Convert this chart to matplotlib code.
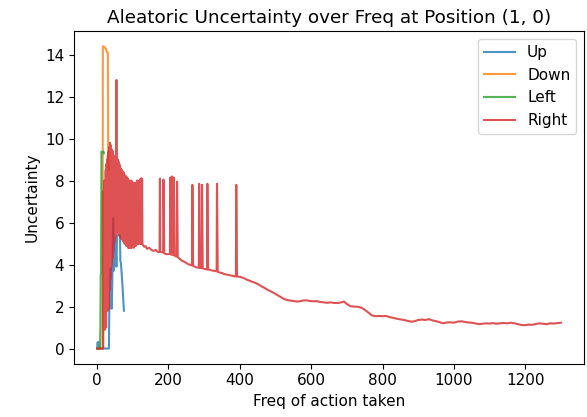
import matplotlib
matplotlib.use("Agg")
import matplotlib.pyplot as plt
import numpy as np

# ---- data ----
up_x = [0, 1, 4, 5, 33, 34, 36, 37, 40, 41, 43, 45, 46, 48, 50, 52, 54, 56, 64, 65, 67, 69, 71, 73, 75]
up_y = [0, 0.3, 0.3, 0, 0, 1.8, 2.0, 3.8, 3.8, 1.9, 3.7, 6.2, 3.7, 5.3, 4.0, 5.0, 3.9, 5.4, 5.4, 4.2,
        4.0, 3.5, 3.0, 2.4, 1.8]

down_x = [0, 15, 16, 18, 24, 28, 30, 31, 33]
down_y = [0, 0, 14.4, 14.4, 14.3, 14.1, 14.1, 9.0, 8.5]

left_x = [0, 8, 9, 10, 11, 12, 18, 19]
left_y = [0, 0, 1.0, 3.5, 3.6, 9.38, 9.38, 9.3]

# dense oscillating part of "Right": peaks at even x, troughs at the next x
right_head_x = [0, 17]
right_head_y = [0, 0]
dense_peak_x = list(range(18, 127, 2))
dense_peak_y = [7.5, 8.0, 7.6, 8.5, 8.8, 9.0, 9.2, 9.4, 9.6, 9.8, 9.7, 9.5, 9.3, 9.4, 9.2, 9.0,
                9.1, 8.9, 12.8, 8.9, 9.0, 8.9, 8.8, 8.7, 8.6, 8.5, 8.5, 8.4, 8.4, 8.3, 8.2, 8.2,
                8.2, 8.1, 8.1, 8.0, 8.0, 8.0, 7.9, 8.0, 7.9, 7.9, 7.9, 7.8, 7.9, 7.8, 7.9, 8.0,
                8.0, 7.6, 7.9, 8.0, 8.1, 8.1, 8.1]
dense_trough_y = [1.0, 0.9, 1.5, 1.0, 2.0, 1.8, 2.5, 1.9, 2.8, 3.3, 3.8, 4.0, 4.3, 4.6, 4.9, 5.1,
                  5.3, 5.5, 5.6, 5.6, 5.5, 5.5, 5.4, 5.3, 5.3, 5.2, 5.2, 5.1, 5.1, 5.0, 5.0, 4.9,
                  4.9, 4.9, 4.8, 4.8, 4.8, 4.9, 4.8, 4.8, 4.9, 4.9, 4.8, 4.9, 4.9, 4.9, 5.0, 5.0,
                  5.0, 5.0, 5.0, 5.0, 5.0, 5.0, 5.0]

right_tail_x = [128, 132, 136, 140, 146, 152, 158, 164, 170, 175, 176, 177, 179, 185, 186, 188,
                192, 198, 204, 205, 207, 209, 210, 212, 214, 215, 217, 219, 223, 224, 226, 230,
                236, 242, 248, 252, 258, 263, 266, 267, 269, 274, 280, 285, 286, 288, 291, 293,
                294, 296, 300, 308, 309, 311, 316, 322, 328, 334, 335, 336, 338, 344, 350, 356,
                364, 370, 376, 383, 389, 390, 392, 400, 408, 414, 420, 426, 432, 440, 447, 453,
                460, 470, 480, 490, 500, 510, 518, 525, 535, 545, 555, 565, 575, 585, 595, 605,
                615, 625, 635, 645, 655, 665, 675, 685, 692, 700, 710, 720, 730, 740, 750, 760,
                770, 780, 790, 800, 810, 820, 830, 840, 850, 860, 870, 880, 890, 900, 910, 920,
                930, 940, 950, 960, 970, 980, 990, 1000, 1010, 1020, 1030, 1040, 1050, 1060,
                1070, 1080, 1090, 1100, 1110, 1120, 1130, 1140, 1150, 1160, 1170, 1180, 1190,
                1200, 1210, 1220, 1230, 1240, 1250, 1260, 1270, 1280, 1290, 1300]
right_tail_y = [4.95, 4.85, 4.88, 4.75, 4.8, 4.7, 4.65, 4.7, 4.6, 4.6, 8.1, 4.6, 4.6, 4.58, 8.05,
                4.55, 4.5, 4.5, 4.5, 8.15, 4.48, 4.48, 8.2, 4.46, 4.45, 8.15, 4.44, 4.4, 4.38,
                7.95, 4.36, 4.3, 4.2, 4.15, 4.1, 4.05, 4.0, 3.98, 3.96, 7.8, 3.95, 3.9, 3.86,
                3.85, 7.85, 3.85, 3.84, 3.83, 7.8, 3.82, 3.8, 3.77, 7.85, 3.76, 3.75, 3.72, 3.7,
                3.68, 3.68, 7.85, 3.66, 3.62, 3.6, 3.55, 3.52, 3.5, 3.48, 3.45, 3.44, 7.8, 3.43,
                3.42, 3.38, 3.33, 3.28, 3.24, 3.2, 3.15, 3.1, 3.05, 2.97, 2.88, 2.78, 2.7, 2.6,
                2.5, 2.42, 2.35, 2.3, 2.28, 2.25, 2.24, 2.28, 2.3, 2.27, 2.25, 2.26, 2.22, 2.2,
                2.18, 2.2, 2.17, 2.17, 2.2, 2.24, 2.12, 2.02, 2.0, 1.99, 1.95, 1.85, 1.72, 1.58,
                1.54, 1.55, 1.54, 1.55, 1.5, 1.46, 1.42, 1.39, 1.36, 1.32, 1.28, 1.3, 1.36, 1.38,
                1.36, 1.4, 1.34, 1.3, 1.26, 1.2, 1.24, 1.25, 1.23, 1.28, 1.3, 1.27, 1.24, 1.23,
                1.2, 1.16, 1.18, 1.2, 1.19, 1.21, 1.18, 1.2, 1.22, 1.2, 1.23, 1.2, 1.16, 1.12,
                1.11, 1.14, 1.13, 1.17, 1.2, 1.18, 1.16, 1.2, 1.19, 1.21, 1.23]

labels = ["Up", "Down", "Left", "Right"]

# assemble the Right series from its read pieces
right_x = list(right_head_x)
right_y = list(right_head_y)
for px, py, ty in zip(dense_peak_x, dense_peak_y, dense_trough_y):
    right_x += [px, px + 1]
    right_y += [py, ty]
right_x += right_tail_x
right_y += right_tail_y

plt.rcParams["font.size"] = 11

fig, ax = plt.subplots(figsize=(5.87, 4.17), dpi=100)
fig.subplots_adjust(left=0.126, right=0.995, bottom=0.128, top=0.925)

ax.plot(up_x, up_y, label=labels[0], alpha=0.8)
ax.plot(down_x, down_y, label=labels[1], alpha=0.8)
ax.plot(left_x, left_y, label=labels[2], alpha=0.8)
ax.plot(right_x, right_y, label=labels[3], alpha=0.8)

ax.set_title("Aleatoric Uncertainty over Freq at Position (1, 0)", fontsize=13.2)
ax.set_xlabel("Freq of action taken")
ax.set_ylabel("Uncertainty")
ax.legend()

fig.savefig("out.png", dpi=100)
